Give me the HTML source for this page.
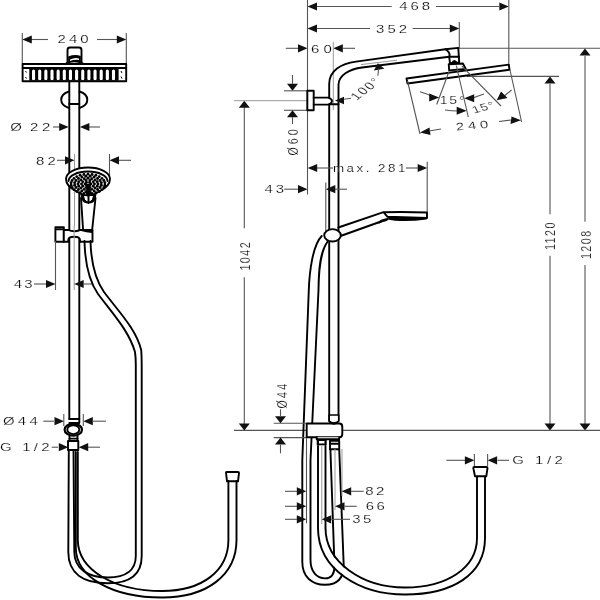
<!DOCTYPE html>
<html><head><meta charset="utf-8"><style>
html,body{margin:0;padding:0;background:#fff;width:600px;height:600px;overflow:hidden}
svg{display:block;will-change:transform}
.o{stroke:#000;stroke-width:1.9;fill:none;stroke-linecap:round;stroke-linejoin:round}
.of{stroke:#000;stroke-width:1.9;fill:#fff;stroke-linecap:round;stroke-linejoin:round}
.d{stroke:#555;stroke-width:1.1;fill:none}
.g{stroke:#999;stroke-width:1;fill:none}
.a{fill:#111;stroke:none}
.t{font-family:"Liberation Sans",sans-serif;fill:#000;stroke:#fff;stroke-width:0.18}
</style></head><body>
<svg width="600" height="600" viewBox="0 0 600 600">
<line class="d" x1="22.3" y1="33" x2="22.3" y2="64"/>
<line class="d" x1="126.3" y1="33" x2="126.3" y2="64"/>
<line class="d" x1="28" y1="39.5" x2="48" y2="39.5"/>
<line class="d" x1="97" y1="39.5" x2="121" y2="39.5"/>
<path class="a" d="M22.3,39.5 L31.8,35.4 L31.8,43.6 Z"/>
<path class="a" d="M126.3,39.5 L116.8,35.4 L116.8,43.6 Z"/>
<text class="t" transform="translate(74.5,43.1) scale(1.4,1)" text-anchor="middle" font-size="10.7" letter-spacing="2.1">240</text>
<rect x="29.3" y="68.3" width="89.3" height="12.4" fill="#000"/>
<rect x="32.00" y="69.6" width="3.1" height="10.6" rx="1.5" fill="#fff"/>
<rect x="38.15" y="69.6" width="3.1" height="10.6" rx="1.5" fill="#fff"/>
<rect x="44.30" y="69.6" width="3.1" height="10.6" rx="1.5" fill="#fff"/>
<rect x="50.45" y="69.6" width="3.1" height="10.6" rx="1.5" fill="#fff"/>
<rect x="56.60" y="69.6" width="3.1" height="10.6" rx="1.5" fill="#fff"/>
<rect x="62.75" y="69.6" width="3.1" height="10.6" rx="1.5" fill="#fff"/>
<rect x="68.90" y="69.6" width="3.1" height="10.6" rx="1.5" fill="#fff"/>
<rect x="75.05" y="69.6" width="3.1" height="10.6" rx="1.5" fill="#fff"/>
<rect x="81.20" y="69.6" width="3.1" height="10.6" rx="1.5" fill="#fff"/>
<rect x="87.35" y="69.6" width="3.1" height="10.6" rx="1.5" fill="#fff"/>
<rect x="93.50" y="69.6" width="3.1" height="10.6" rx="1.5" fill="#fff"/>
<rect x="99.65" y="69.6" width="3.1" height="10.6" rx="1.5" fill="#fff"/>
<rect x="105.80" y="69.6" width="3.1" height="10.6" rx="1.5" fill="#fff"/>
<rect x="111.95" y="69.6" width="3.1" height="10.6" rx="1.5" fill="#fff"/>
<path d="M25.5,71 L26.5,72.5 M25.5,77 L26.5,78.5 M121,71 L122,73 M121,76.5 L122,78.5" stroke="#000" stroke-width="1"/>
<path class="o" d="M22.6,64 H126.2 V81.3 H22.6 Z"/>
<line class="o" x1="23" y1="68" x2="126" y2="68"/>
<path class="o" d="M67.5,62.5 V50 Q67.5,47.5 70,47.5 H79 Q81.5,47.5 81.5,50 V62.5"/>
<path class="o" d="M66,63.5 Q74,59 83,63.5"/>
<path d="M68.2,56.5 Q75,54 80.8,56 L80.8,62 L68.2,62 Z" fill="#000"/>
<path d="M70,59.5 Q75,57 79,58.5 L79,60 Q75,59 70,61 Z" fill="#fff"/>
<line class="o" x1="69.3" y1="81.5" x2="69.3" y2="419"/>
<line class="o" x1="79.3" y1="81.5" x2="79.3" y2="419"/>
<path class="o" d="M69,91.5 A13,9 0 0 0 69,108"/>
<path class="o" d="M79.5,91.5 A13,9 0 0 1 79.5,108"/>
<line class="o" x1="69.3" y1="104" x2="79.3" y2="104"/>
<line class="d" x1="53" y1="127" x2="63" y2="127"/>
<line class="d" x1="85" y1="127" x2="100" y2="127"/>
<path class="a" d="M68.7,127 L59.2,122.9 L59.2,131.1 Z"/>
<path class="a" d="M79.9,127 L89.4,122.9 L89.4,131.1 Z"/>
<text class="t" transform="translate(10.3,130.8) scale(1.4,1)" text-anchor="start" font-size="10.7" letter-spacing="0">Ø</text>
<text class="t" transform="translate(30,130.8) scale(1.4,1)" text-anchor="start" font-size="10.7" letter-spacing="2.6">22</text>
<line class="d" x1="57" y1="160.3" x2="66" y2="160.3"/>
<line class="d" x1="117" y1="160.3" x2="131" y2="160.3"/>
<path class="a" d="M74.5,160.3 L65.0,156.20000000000002 L65.0,164.4 Z"/>
<path class="a" d="M109.5,160.3 L119.0,156.20000000000002 L119.0,164.4 Z"/>
<line class="g" x1="74.5" y1="154" x2="74.5" y2="226"/>
<line class="d" x1="109.5" y1="154" x2="109.5" y2="176"/>
<text class="t" transform="translate(36,164.6) scale(1.4,1)" text-anchor="start" font-size="10.7" letter-spacing="2.3">82</text>
<path class="o" d="M81,198 L83.2,231.5 M95.5,198 L92,231.5"/>
<path d="M80.5,194 L96.5,194 L95.5,199 Q94,203.5 88.5,203.5 Q83,203.5 81.5,199 Z" fill="#000"/>
<path d="M84,196 L93,196 L92,199.5 Q90.5,201.5 88.5,201.5 Q86.5,201.5 85,199.5 Z" fill="#fff"/>
<line class="o" x1="88.5" y1="196" x2="88.5" y2="203"/>
<path d="M66,179 A22,11.5 0 0 1 110,179 Q110,186 100,191 Q93,195.5 88,195.5 Q83,195.5 76,191 Q66,186 66,179 Z" fill="#fff" stroke="#000" stroke-width="1.9"/>
<path class="o" d="M68.5,181 A19.5,9.5 0 0 1 107.5,181"/>
<g fill="#000">
<circle cx="104.88" cy="185.19" r="1.45"/>
<circle cx="103.90" cy="187.50" r="1.45"/>
<circle cx="101.99" cy="189.60" r="1.45"/>
<circle cx="99.27" cy="191.38" r="1.45"/>
<circle cx="95.90" cy="192.73" r="1.45"/>
<circle cx="92.07" cy="193.57" r="1.45"/>
<circle cx="88.00" cy="193.86" r="1.45"/>
<circle cx="83.93" cy="193.57" r="1.45"/>
<circle cx="80.10" cy="192.73" r="1.45"/>
<circle cx="76.73" cy="191.38" r="1.45"/>
<circle cx="74.01" cy="189.60" r="1.45"/>
<circle cx="72.10" cy="187.50" r="1.45"/>
<circle cx="71.12" cy="185.19" r="1.45"/>
<circle cx="71.12" cy="182.81" r="1.45"/>
<circle cx="72.10" cy="180.50" r="1.45"/>
<circle cx="74.01" cy="178.40" r="1.45"/>
<circle cx="76.73" cy="176.62" r="1.45"/>
<circle cx="80.10" cy="175.27" r="1.45"/>
<circle cx="83.93" cy="174.43" r="1.45"/>
<circle cx="88.00" cy="174.14" r="1.45"/>
<circle cx="92.07" cy="174.43" r="1.45"/>
<circle cx="95.90" cy="175.27" r="1.45"/>
<circle cx="99.27" cy="176.62" r="1.45"/>
<circle cx="101.99" cy="178.40" r="1.45"/>
<circle cx="103.90" cy="180.50" r="1.45"/>
<circle cx="104.88" cy="182.81" r="1.45"/>
<circle cx="101.33" cy="185.22" r="1.45"/>
<circle cx="100.03" cy="187.55" r="1.45"/>
<circle cx="97.55" cy="189.54" r="1.45"/>
<circle cx="94.13" cy="190.98" r="1.45"/>
<circle cx="90.11" cy="191.73" r="1.45"/>
<circle cx="85.89" cy="191.73" r="1.45"/>
<circle cx="81.87" cy="190.98" r="1.45"/>
<circle cx="78.45" cy="189.54" r="1.45"/>
<circle cx="75.97" cy="187.55" r="1.45"/>
<circle cx="74.67" cy="185.22" r="1.45"/>
<circle cx="74.67" cy="182.78" r="1.45"/>
<circle cx="75.97" cy="180.45" r="1.45"/>
<circle cx="78.45" cy="178.46" r="1.45"/>
<circle cx="81.87" cy="177.02" r="1.45"/>
<circle cx="85.89" cy="176.27" r="1.45"/>
<circle cx="90.11" cy="176.27" r="1.45"/>
<circle cx="94.13" cy="177.02" r="1.45"/>
<circle cx="97.55" cy="178.46" r="1.45"/>
<circle cx="100.03" cy="180.45" r="1.45"/>
<circle cx="101.33" cy="182.78" r="1.45"/>
<circle cx="98.00" cy="184.00" r="1.45"/>
<circle cx="97.24" cy="186.22" r="1.45"/>
<circle cx="95.07" cy="188.10" r="1.45"/>
<circle cx="91.83" cy="189.36" r="1.45"/>
<circle cx="88.00" cy="189.80" r="1.45"/>
<circle cx="84.17" cy="189.36" r="1.45"/>
<circle cx="80.93" cy="188.10" r="1.45"/>
<circle cx="78.76" cy="186.22" r="1.45"/>
<circle cx="78.00" cy="184.00" r="1.45"/>
<circle cx="78.76" cy="181.78" r="1.45"/>
<circle cx="80.93" cy="179.90" r="1.45"/>
<circle cx="84.17" cy="178.64" r="1.45"/>
<circle cx="88.00" cy="178.20" r="1.45"/>
<circle cx="91.83" cy="178.64" r="1.45"/>
<circle cx="95.07" cy="179.90" r="1.45"/>
<circle cx="97.24" cy="181.78" r="1.45"/>
<circle cx="94.50" cy="184.00" r="1.45"/>
<circle cx="93.26" cy="186.22" r="1.45"/>
<circle cx="90.01" cy="187.59" r="1.45"/>
<circle cx="85.99" cy="187.59" r="1.45"/>
<circle cx="82.74" cy="186.22" r="1.45"/>
<circle cx="81.50" cy="184.00" r="1.45"/>
<circle cx="82.74" cy="181.78" r="1.45"/>
<circle cx="85.99" cy="180.41" r="1.45"/>
<circle cx="90.01" cy="180.41" r="1.45"/>
<circle cx="93.26" cy="181.78" r="1.45"/>
<circle cx="91.00" cy="184.00" r="1.45"/>
<circle cx="89.50" cy="185.51" r="1.45"/>
<circle cx="86.50" cy="185.51" r="1.45"/>
<circle cx="85.00" cy="184.00" r="1.45"/>
<circle cx="86.50" cy="182.49" r="1.45"/>
<circle cx="89.50" cy="182.49" r="1.45"/>
</g>
<path d="M86.5,184 L90,184 L91,195 L86,195 Z" fill="#000"/>
<path class="o" d="M55.4,241.7 V227.1 H63.8 V241.7 Z"/>
<line class="o" x1="56" y1="229.3" x2="63.2" y2="229.3"/>
<path d="M63.8,230 H68.3 Q74,232.5 80,230 H92.5 V241.7 H80 V240 Q80,236.7 74,236.7 Q68.3,236.7 68.3,240 V241.7 H63.8 Z" fill="#fff" stroke="#000" stroke-width="1.9" stroke-linejoin="round"/>
<path d="M81,230 H92.5 L92,233 Q86,232.5 81,231 Z" fill="#000"/>
<line class="g" x1="74.2" y1="226" x2="74.2" y2="290"/>
<line class="d" x1="34" y1="284" x2="46" y2="284"/>
<line class="d" x1="84" y1="284" x2="93" y2="284"/>
<path class="a" d="M55.5,284 L46.0,279.9 L46.0,288.1 Z"/>
<path class="a" d="M74.2,284 L83.7,279.9 L83.7,288.1 Z"/>
<line class="d" x1="55.5" y1="241" x2="55.5" y2="290"/>
<text class="t" transform="translate(13.8,288.4) scale(1.4,1)" text-anchor="start" font-size="10.7" letter-spacing="1.5">43</text>
<path class="o" d="M84.5,241 C85,264 89,281 98,294 C113,314 129,331 135,352 C135.6,356 135.8,360 135.8,365 V556 C135.8,570 126,577.5 108,577.5 C88,577.5 74.5,569 74.3,552 L73.5,450"/>
<path class="o" d="M90.5,241 C91,262 95,279 104,292 C119,312 136,329 141.2,350 C141.6,355 141.7,360 141.7,365 V556 C141.7,574 130,583.3 108,583.3 C84,583.3 68.3,574 68.3,552 L68.8,450"/>
<path class="o" d="M69.3,419 H79.3 V423 H69.3"/>
<ellipse cx="73.3" cy="429.7" rx="8.7" ry="5.9" fill="#fff" stroke="#000" stroke-width="2.2"/>
<ellipse cx="73.3" cy="429.7" rx="6" ry="4.4" fill="none" stroke="#000" stroke-width="1.9"/>
<path class="o" d="M69.5,436 V441 H77.5 V436"/>
<line class="o" x1="69.5" y1="438.6" x2="77.5" y2="438.6"/>
<path class="o" d="M68,441 V450 H78.3 V441 Z"/>
<line class="d" x1="43.3" y1="421.2" x2="54" y2="421.2"/>
<line class="d" x1="93" y1="421.2" x2="106" y2="421.2"/>
<path class="a" d="M64,421.2 L54.5,417.09999999999997 L54.5,425.3 Z"/>
<path class="a" d="M83.3,421.2 L92.8,417.09999999999997 L92.8,425.3 Z"/>
<line class="d" x1="63.8" y1="414" x2="63.8" y2="426"/>
<line class="d" x1="83.3" y1="414" x2="83.3" y2="426"/>
<text class="t" transform="translate(3,425.2) scale(1.4,1)" text-anchor="start" font-size="10.7" letter-spacing="2.3">Ø44</text>
<line class="d" x1="51.7" y1="447.2" x2="58" y2="447.2"/>
<line class="d" x1="88" y1="447.2" x2="100" y2="447.2"/>
<path class="a" d="M68.3,447.2 L58.8,443.09999999999997 L58.8,451.3 Z"/>
<path class="a" d="M78.7,447.2 L88.2,443.09999999999997 L88.2,451.3 Z"/>
<text class="t" transform="translate(0,450.8) scale(1.4,1)" text-anchor="start" font-size="10.7" letter-spacing="2.3">G 1/2</text>
<path class="o" d="M75.8,452 V548 C76,577 112,597.5 162,597.5 C207,597.5 236.5,575 236.5,540 V481"/>
<path class="o" d="M77.8,452 V540 C78,570 114,591 162,591 C202,591 228.4,571 228.4,540 V481"/>
<path class="o" d="M226,472.5 Q226,472 227,472 H238 Q239,472 239,473 L238,481.3 H227 Z"/>
<line class="d" x1="307.5" y1="0" x2="307.5" y2="194.5"/>
<line class="d" x1="317" y1="6.5" x2="391.7" y2="6.5"/>
<line class="d" x1="436" y1="6.5" x2="499" y2="6.5"/>
<path class="a" d="M307.5,6.5 L317.0,2.4000000000000004 L317.0,10.6 Z"/>
<path class="a" d="M508.8,6.5 L499.3,2.4000000000000004 L499.3,10.6 Z"/>
<text class="t" transform="translate(416.2,10.3) scale(1.4,1)" text-anchor="middle" font-size="10.7" letter-spacing="2.1">468</text>
<line class="d" x1="508.8" y1="0" x2="508.8" y2="65"/>
<line class="d" x1="317" y1="28.5" x2="370" y2="28.5"/>
<line class="d" x1="412.7" y1="28.5" x2="450" y2="28.5"/>
<path class="a" d="M307.5,28.5 L317.0,24.4 L317.0,32.6 Z"/>
<path class="a" d="M459.3,28.5 L449.8,24.4 L449.8,32.6 Z"/>
<text class="t" transform="translate(393,32.8) scale(1.4,1)" text-anchor="middle" font-size="10.7" letter-spacing="2.1">352</text>
<line class="d" x1="459.3" y1="22" x2="459.3" y2="48"/>
<line class="d" x1="285.8" y1="48.3" x2="298" y2="48.3"/>
<line class="d" x1="343" y1="48.3" x2="355" y2="48.3"/>
<path class="a" d="M307.5,48.3 L298.0,44.199999999999996 L298.0,52.4 Z"/>
<path class="a" d="M333.3,48.3 L342.8,44.199999999999996 L342.8,52.4 Z"/>
<text class="t" transform="translate(323.4,52.5) scale(1.4,1)" text-anchor="middle" font-size="10.7" letter-spacing="2.9">60</text>
<line class="g" x1="333.3" y1="41.7" x2="333.3" y2="110"/>
<line class="d" x1="459" y1="48.3" x2="600" y2="48.3"/>
<line class="d" x1="467" y1="76.4" x2="559" y2="76.4"/>
<line class="d" x1="585" y1="56" x2="585" y2="221.7"/>
<line class="d" x1="585" y1="265" x2="585" y2="424"/>
<path class="a" d="M585,48.6 L579.5,55.6 L590.5,55.6 Z"/>
<path class="a" d="M585,430.4 L579.5,423.4 L590.5,423.4 Z"/>
<text class="t" transform="translate(590.8,244.2) scale(1.4,1) rotate(-90)" text-anchor="middle" font-size="10.7" letter-spacing="1.5">1208</text>
<line class="d" x1="550" y1="84" x2="550" y2="214.2"/>
<line class="d" x1="550" y1="255.8" x2="550" y2="424"/>
<path class="a" d="M550,76.4 L544.5,83.4 L555.5,83.4 Z"/>
<path class="a" d="M550,430.4 L544.5,423.4 L555.5,423.4 Z"/>
<text class="t" transform="translate(555.3,235.6) scale(1.4,1) rotate(-90)" text-anchor="middle" font-size="10.7" letter-spacing="1.5">1120</text>
<line class="d" x1="234" y1="430.4" x2="600" y2="430.4"/>
<line class="d" x1="244.3" y1="107" x2="244.3" y2="228.3"/>
<line class="d" x1="244.3" y1="277.3" x2="244.3" y2="424"/>
<path class="a" d="M244.3,100.8 L238.8,107.8 L249.8,107.8 Z"/>
<path class="a" d="M244.3,430.4 L238.8,423.4 L249.8,423.4 Z"/>
<text class="t" transform="translate(249.7,255.7) scale(1.4,1) rotate(-90)" text-anchor="middle" font-size="10.7" letter-spacing="1.5">1042</text>
<line class="g" x1="234" y1="100.7" x2="307" y2="100.7"/>
<line class="d" x1="284" y1="90.8" x2="307" y2="90.8"/>
<line class="d" x1="284" y1="110.3" x2="307" y2="110.3"/>
<path class="a" d="M292.5,90.8 L287.0,83.8 L298.0,83.8 Z"/>
<path class="a" d="M292.5,110.3 L287.0,117.3 L298.0,117.3 Z"/>
<line class="d" x1="292.5" y1="75" x2="292.5" y2="84"/>
<line class="d" x1="292.5" y1="117" x2="292.5" y2="124"/>
<text class="t" transform="translate(297.5,140.9) scale(1.4,1) rotate(-90)" text-anchor="middle" font-size="10.7" letter-spacing="3.0">Ø60</text>
<path class="o" d="M307.3,90.8 H313.7 V110.3 H307.3 Z"/>
<path class="o" d="M329.2,421 V84 C329.2,71 341,63.4 356,61.6 L445.4,49.3"/>
<path class="o" d="M338.5,421 V85 C338.5,75 350,69 362,67.5 L449.2,56.8"/>
<rect x="327" y="98.5" width="4" height="5.2" fill="#fff"/>
<path class="o" d="M313.7,97.6 H328.5 Q332,99 332,101.1 Q332,103.2 328.5,104.6 H313.7"/>
<line class="o" x1="329.5" y1="104.3" x2="338.5" y2="104.3"/>
<path class="o" d="M445.4,49.3 L458.3,47.9 L459.2,62.5 L450,63.3 L449.2,56.8 Q451,53 445.4,49.3"/>
<line class="o" x1="449.2" y1="56.8" x2="459" y2="56.8"/>
<path d="M451,63.5 Q454,57 458,63 Z" fill="#000"/>
<path class="o" d="M448.75,64.3 L462.9,63.5 L465.8,68.9 L449.2,70.4 Z"/>
<path class="o" d="M406.5,78.5 L508.8,64.6 L509.5,69.8 L407.5,83.5 Z"/>
<line class="g" x1="361" y1="64.6" x2="397" y2="60.2"/>
<path d="M377.9,63.3 L373.8,70.6 L384.4,68.8 Z" fill="#111"/>
<line class="d" x1="378.5" y1="69.5" x2="377.9" y2="75.8"/>
<path class="a" d="M335,100.5 L344,96.7 L344,104.3 Z"/>
<line class="d" x1="344" y1="99.2" x2="351" y2="98.3"/>
<text class="t" transform="translate(369.5,91) scale(1.4,1) rotate(-47)" text-anchor="middle" font-size="10.5" letter-spacing="1.2">100°</text>
<line class="d" x1="449" y1="71.5" x2="436.7" y2="104.5"/>
<line class="d" x1="456.3" y1="65.5" x2="468.3" y2="117"/>
<line class="d" x1="461.7" y1="65.8" x2="501" y2="106"/>
<text class="t" transform="translate(453,104.2) scale(1.4,1)" text-anchor="middle" font-size="10" letter-spacing="1.3">15°</text>
<text class="t" transform="translate(485,110.5) scale(1.4,1) rotate(-20)" text-anchor="middle" font-size="10" letter-spacing="0.6">15°</text>
<path class="d" d="M420,91.7 Q428,94 433,97"/>
<path class="a" d="M439.2,97.5 L429.2,93.5 L429.2,101.5 Z"/>
<path class="d" d="M484,94 Q478,96 473,98"/>
<path class="a" d="M464.2,98.3 L474.2,94.3 L474.2,102.3 Z"/>
<path class="d" d="M445,110 Q452,111 458,111"/>
<path class="a" d="M466.7,110.8 L456.7,106.8 L456.7,114.8 Z"/>
<line class="d" x1="511.6" y1="90" x2="503" y2="97"/>
<path d="M496.7,100.3 L501,91.5 L507.5,98 Z" fill="#111"/>
<line class="d" x1="407.5" y1="81" x2="420" y2="134"/>
<line class="d" x1="510" y1="70" x2="521.6" y2="122"/>
<path d="M420,132.5 L429.5,127.5 L430.5,135 Z" fill="#111"/>
<line class="d" x1="429" y1="131" x2="441" y2="129"/>
<path d="M521,120.3 L511.5,116.5 L510.5,124 Z" fill="#111"/>
<line class="d" x1="499" y1="121.5" x2="511" y2="120"/>
<text class="t" transform="translate(474.5,129) scale(1.4,1) rotate(-7)" text-anchor="middle" font-size="10.7" letter-spacing="2.7">240</text>
<line class="d" x1="317" y1="168" x2="333" y2="168"/>
<line class="d" x1="406" y1="168" x2="418" y2="168"/>
<path class="a" d="M307.7,168 L317.2,163.9 L317.2,172.1 Z"/>
<path class="a" d="M427.2,168 L417.7,163.9 L417.7,172.1 Z"/>
<text class="t" transform="translate(370.4,172.3) scale(1.25,1)" text-anchor="middle" font-size="10.7" letter-spacing="2.0">max. 281</text>
<line class="d" x1="427.2" y1="161.7" x2="427.2" y2="212.5"/>
<line class="d" x1="284.2" y1="189.2" x2="298.3" y2="189.2"/>
<line class="d" x1="335" y1="189.2" x2="347" y2="189.2"/>
<path class="a" d="M307.5,189.2 L298.0,185.1 L298.0,193.29999999999998 Z"/>
<path class="a" d="M325.8,189.2 L335.3,185.1 L335.3,193.29999999999998 Z"/>
<line class="d" x1="325.8" y1="182.5" x2="325.8" y2="232"/>
<text class="t" transform="translate(275.7,192.6) scale(1.4,1)" text-anchor="middle" font-size="10.7" letter-spacing="2.1">43</text>
<path class="o" d="M338.3,227.5 L383.5,212.2 Q405,211.6 427,212.5 V218 L387.5,216.8 L383.5,212.2"/>
<path class="o" d="M340.5,236 L388,219"/>
<path d="M388,217 L427,218 L426.5,219.6 Q410,221.8 395,220.8 L389,219.8 Z" fill="#000"/>
<path d="M377.5,223.2 Q380,219 387.5,218.3 L387,221 Q382.5,221 379.5,223.5 Z" fill="#000"/>
<ellipse cx="332.5" cy="235.3" rx="8.3" ry="6.2" fill="#fff" stroke="#000" stroke-width="1.9"/>
<path class="o" d="M321.7,236 C313,245 309.5,270 308.8,290 L302.3,460 V562 C302.3,577 312,584.8 325,584.8 C338,584.8 343.7,577 343.7,565 L339.2,449"/>
<path class="o" d="M327.5,241.7 C320,252 318.7,270 318.5,290 L310.5,460 V560 C310.5,572 317,578.4 325,578.4 C331,578.4 334.5,574 334.5,566 L330.4,449"/>
<path d="M321.75,470 V528 C321.75,566 361,591 405,591 C449.5,591 481,571.5 481,538 V476.3" fill="none" stroke="#fff" stroke-width="6"/>
<path class="o" d="M318,446 V528 C318,570 360,594.5 405,594.5 C452,594.5 485,575 485,538 V476.3"/>
<path class="o" d="M325.5,446 V528 C325.5,562 362,587.5 405,587.5 C447,587.5 477,568 477,538 V476.3"/>
<path d="M329.2,415 V421 Q333.8,425 338.7,421 V415 Z" fill="#fff" stroke="#000" stroke-width="1.6"/>
<path class="of" d="M306.7,423.5 H339.5 Q342.3,423.5 342.3,427 V434 Q342.3,437.2 339.5,437.2 H306.7 Z"/>
<path d="M329,421.5 Q333.8,426.5 338.7,421.5" fill="none" stroke="#000" stroke-width="1.5"/>
<path class="of" d="M316.7,437.2 V439.3 H339.2 V437.2"/>
<rect x="316.7" y="439.3" width="10" height="6" fill="#000"/>
<rect x="319" y="441" width="5.5" height="2.5" fill="#fff"/>
<path class="of" d="M330,440.8 V449.2 H339.2 V440.8 Z"/>
<line class="o" x1="330" y1="443.8" x2="339.2" y2="443.8"/>
<line class="g" x1="321.8" y1="446" x2="321.8" y2="524"/>
<line class="g" x1="335" y1="449" x2="335" y2="510"/>
<line class="g" x1="342" y1="449" x2="342" y2="496"/>
<line class="d" x1="306.5" y1="438" x2="306.5" y2="523.3"/>
<line class="d" x1="273.7" y1="423.3" x2="306" y2="423.3"/>
<line class="d" x1="273.7" y1="437.6" x2="306" y2="437.6"/>
<path class="a" d="M280.5,423.3 L275.0,416.3 L286.0,416.3 Z"/>
<path class="a" d="M280.5,437.6 L275.0,444.6 L286.0,444.6 Z"/>
<line class="d" x1="280.5" y1="409.3" x2="280.5" y2="416.5"/>
<line class="d" x1="280.5" y1="444.5" x2="280.5" y2="453.3"/>
<text class="t" transform="translate(286.7,395) scale(1.4,1) rotate(-90)" text-anchor="middle" font-size="10.7" letter-spacing="2.3">Ø44</text>
<line class="d" x1="285" y1="491.3" x2="297.5" y2="491.3"/>
<path class="a" d="M306.3,491.3 L296.8,487.2 L296.8,495.40000000000003 Z"/>
<line class="d" x1="351.2" y1="491.3" x2="363.7" y2="491.3"/>
<path class="a" d="M341.7,491.3 L351.2,487.2 L351.2,495.40000000000003 Z"/>
<text class="t" transform="translate(376,495.1) scale(1.4,1)" text-anchor="middle" font-size="10.7" letter-spacing="1.8">82</text>
<line class="d" x1="285" y1="506.3" x2="297.5" y2="506.3"/>
<path class="a" d="M306.3,506.3 L296.8,502.2 L296.8,510.40000000000003 Z"/>
<line class="d" x1="344.5" y1="506.3" x2="356.7" y2="506.3"/>
<path class="a" d="M335,506.3 L344.5,502.2 L344.5,510.40000000000003 Z"/>
<text class="t" transform="translate(376.5,510.1) scale(1.4,1)" text-anchor="middle" font-size="10.7" letter-spacing="1.8">66</text>
<line class="d" x1="285" y1="519.3" x2="297.5" y2="519.3"/>
<path class="a" d="M306.3,519.3 L296.8,515.1999999999999 L296.8,523.4 Z"/>
<line class="d" x1="331.2" y1="519.3" x2="350" y2="519.3"/>
<path class="a" d="M321.7,519.3 L331.2,515.1999999999999 L331.2,523.4 Z"/>
<text class="t" transform="translate(363,523.0999999999999) scale(1.4,1)" text-anchor="middle" font-size="10.7" letter-spacing="1.8">35</text>
<line class="d" x1="446.3" y1="460.3" x2="465" y2="460.3"/>
<line class="d" x1="497.5" y1="460.3" x2="509" y2="460.3"/>
<path class="a" d="M474.4,460.3 L464.9,456.2 L464.9,464.40000000000003 Z"/>
<path class="a" d="M487.6,460.3 L497.1,456.2 L497.1,464.40000000000003 Z"/>
<line class="d" x1="474.4" y1="454" x2="474.4" y2="466"/>
<line class="d" x1="487.6" y1="454" x2="487.6" y2="466"/>
<text class="t" transform="translate(512.3,464.4) scale(1.4,1)" text-anchor="start" font-size="10.7" letter-spacing="2.5">G 1/2</text>
<path class="of" d="M473.3,468 Q473.3,467 474.3,467 H486.5 Q487.5,467 487.5,468 L486.3,476.3 H475 Z"/>
</svg>
</body></html>
